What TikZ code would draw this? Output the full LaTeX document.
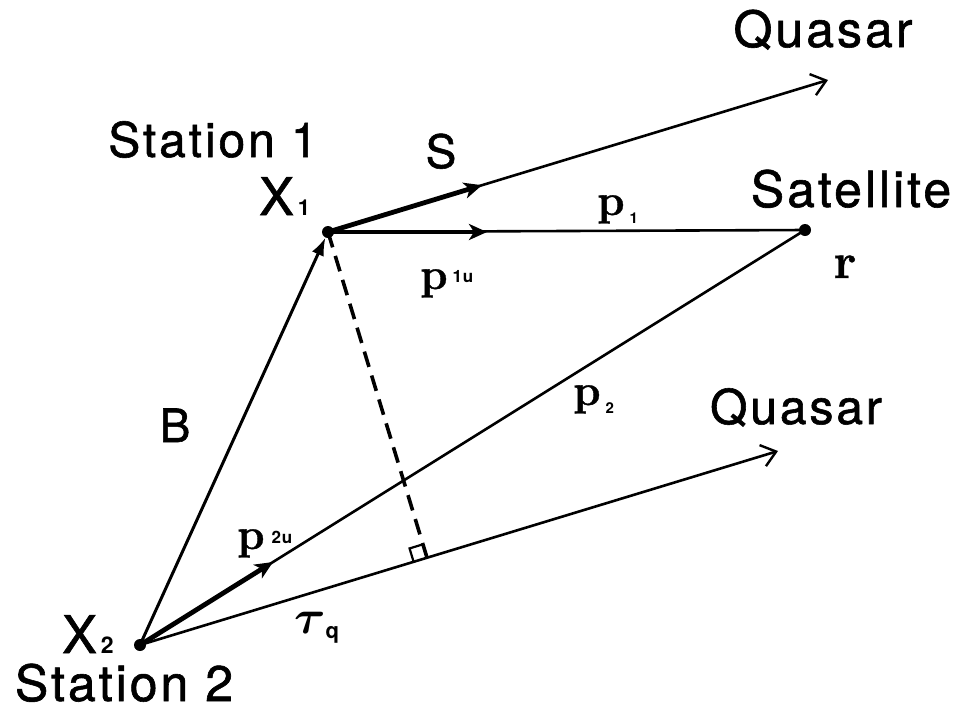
\documentclass[tikz,border=0pt]{standalone}
\usepackage{fix-cm}
\usepackage{fontspec}
\usepackage{bm}
\usetikzlibrary{arrows.meta,calc}
\newfontfamily\hv[LetterSpace=6,FakeBold=1.2]{TeX Gyre Heros}
\newfontfamily\hvs[FakeBold=1.2]{TeX Gyre Heros}
\newfontfamily\hvb[LetterSpace=4]{TeX Gyre Heros}
\newfontfamily\lmb[FakeBold=0.8]{Latin Modern Roman}
\newcommand{\myfs}[1]{\fontsize{#1}{#1}\selectfont}
\begin{document}
\begin{tikzpicture}[x=1pt,y=-1pt,
  dot/.style={circle,fill=black,inner sep=0pt,minimum size=12pt},
  lbl/.style={inner sep=0pt,anchor=base},
  thinln/.style={line width=2.6pt},
  vec/.style={line width=4.8pt,-{Stealth[length=18pt,width=16pt,inset=5pt]}},
  bvec/.style={line width=3pt,-{Latex[length=18pt,width=13pt]}},
  qarrow/.style={line width=2.6pt,-{Straight Barb[length=14pt,width=22pt,line width=2.4pt]}},
  perp/.style={line width=3.6pt,dash pattern=on 16pt off 9pt},
  ramark/.style={line width=2.2pt}
]
\useasboundingbox (0,0) rectangle (960,713);
\fill[white] (0,0) rectangle (960,713);

% points
\node[dot] (X1) at (328,232) {};
\node[dot] (X2) at (140,645) {};
\node[dot] (Sat) at (805,230) {};
\coordinate (Q1) at (828,80);
\coordinate (Q2) at (778,451);
\coordinate (Send) at ($(X1.center)!0.308!(Q1)$);
\coordinate (P1end) at (487,232);
\coordinate (P2end) at ($(X2.center)!0.2!(Sat.center)$);
\coordinate (F) at ($(X2.center)!(X1.center)!(Q2)$);
\coordinate (ra1) at ($(F)!14pt!(X2.center)$);
\coordinate (ra3) at ($(F)!14pt!(X1.center)$);
\coordinate (ra2) at ($(ra1)+(ra3)-(F)$);

% thin lines
\draw[qarrow] (X1.center) -- (Q1);
\draw[qarrow] (X2.center) -- (Q2);
\draw[thinln] (X1.center) -- (Sat.center);
\draw[thinln] (X2.center) -- (Sat.center);
\draw[bvec] (X2.center) -- (X1);
\draw[perp] (X1.center) -- (F);
\draw[ramark] (ra1) -- (ra2) -- (ra3);

% thick vectors
\draw[vec] (X1.center) -- (Send);
\draw[vec] (X1.center) -- (P1end);
\draw[vec] (X2.center) -- (P2end);

% labels
\node[lbl,font=\hv\myfs{50}] (qtop) at (823,47) {Quasar};
\node[lbl,font=\hv\myfs{48}] (qlow) at (796,424) {Quasar};
\node[lbl,font=\hv\myfs{48}] (st1) at (213,157) {Station 1};
\node[lbl,font=\hv\myfs{50}] (st2) at (124,701) {Station 2};
\node[lbl,font=\hv\myfs{50}] (satlbl) at (851,207) {Satellite};
\node[lbl,font=\hvs\myfs{46}] (slbl) at (441,168) {S};
\node[lbl,font=\hvs\myfs{46}] (blbl) at (175,442) {B};
\node[lbl,anchor=base west] (x1lbl) at (259,215) {\hvs\myfs{52}X\kern4pt{\hvb\bfseries\myfs{22}1}};
\node[lbl,anchor=base west] (x2lbl) at (62,653) {\hvs\myfs{52}X\kern4pt{\hvb\bfseries\myfs{23}2}};
\node[lbl,anchor=base west] (p1ulbl) at (420,289) {\lmb\bfseries\myfs{44}p\kern5pt\raisebox{7pt}{\hvb\bfseries\myfs{17}1u}};
\node[lbl,anchor=base west] (p2ulbl) at (237,549) {\lmb\bfseries\myfs{44}p\kern7pt\raisebox{6pt}{\hvb\bfseries\myfs{17}2u}};
\node[lbl,anchor=base west] (p1lbl) at (597,215) {\lmb\bfseries\myfs{44}p\kern5pt\raisebox{-8pt}{\hvb\bfseries\myfs{15}1}};
\node[lbl,anchor=base west] (p2lbl) at (573,405) {\lmb\bfseries\myfs{44}p\kern5pt\raisebox{-8pt}{\hvb\bfseries\myfs{15}2}};
\node[lbl,anchor=base west] (taulbl) at (294,633) {\myfs{48}$\bm{\tau}$\kern0pt\raisebox{-5pt}{\hvb\bfseries\myfs{22}q}};
\node[lbl] (rlbl) at (845,278) {\lmb\bfseries\myfs{50}r};
\end{tikzpicture}
\end{document}
